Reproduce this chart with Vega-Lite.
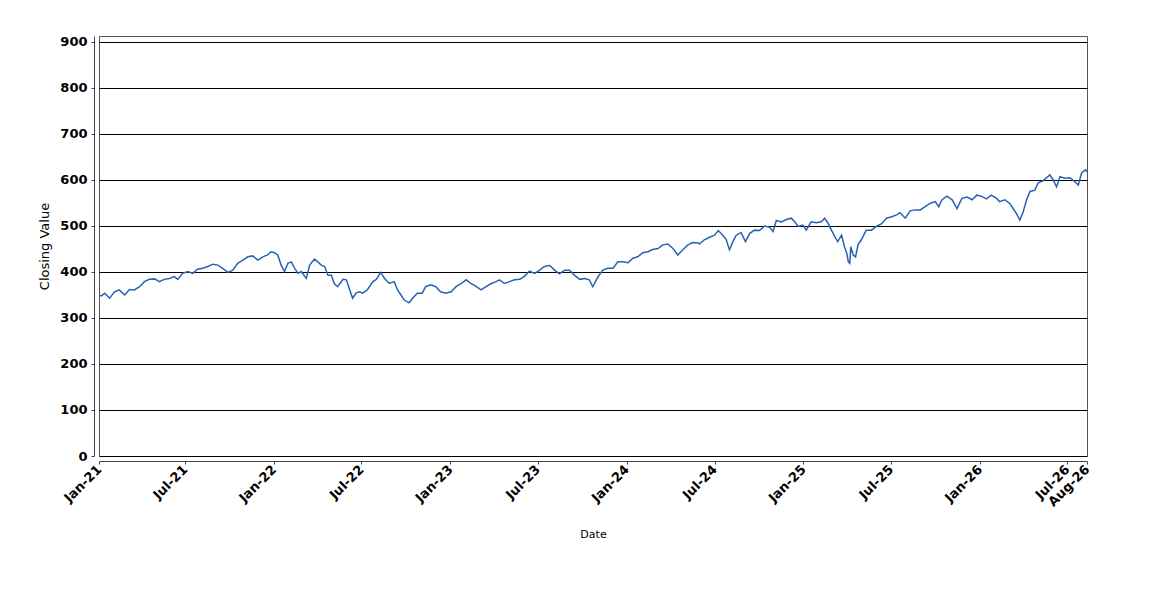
{
  "$schema": "https://vega.github.io/schema/vega-lite/v6.json",
  "autosize": {"type": "none"},
  "padding": {"left": 99, "top": 36, "right": 63, "bottom": 144},
  "width": 988,
  "height": 420,
  "background": "white",
  "config": {
    "view": {"stroke": "#555555", "strokeWidth": 1},
    "font": "DejaVu Sans"
  },
  "data": {"values": [
    {"date":"2021-01-04","close":350},{"date":"2021-01-09","close":348},{"date":"2021-01-16","close":354},{"date":"2021-01-26","close":343},
    {"date":"2021-02-05","close":357},{"date":"2021-02-15","close":361},{"date":"2021-02-26","close":350},{"date":"2021-03-08","close":362},
    {"date":"2021-03-18","close":361},{"date":"2021-03-29","close":368},{"date":"2021-04-08","close":379},{"date":"2021-04-18","close":384},
    {"date":"2021-04-29","close":385},{"date":"2021-05-09","close":379},{"date":"2021-05-19","close":384},{"date":"2021-05-30","close":386},
    {"date":"2021-06-09","close":390},{"date":"2021-06-16","close":384},{"date":"2021-06-26","close":397},{"date":"2021-07-07","close":401},
    {"date":"2021-07-17","close":397},{"date":"2021-07-27","close":406},{"date":"2021-08-07","close":408},{"date":"2021-08-17","close":412},
    {"date":"2021-08-28","close":417},{"date":"2021-09-07","close":415},{"date":"2021-09-17","close":408},{"date":"2021-09-28","close":399},
    {"date":"2021-10-08","close":404},{"date":"2021-10-18","close":419},{"date":"2021-10-29","close":426},{"date":"2021-11-08","close":433},
    {"date":"2021-11-18","close":435},{"date":"2021-11-29","close":426},{"date":"2021-12-09","close":433},{"date":"2021-12-19","close":437},
    {"date":"2021-12-26","close":444},{"date":"2022-01-02","close":442},{"date":"2022-01-09","close":437},{"date":"2022-01-16","close":415},
    {"date":"2022-01-23","close":401},{"date":"2022-01-30","close":419},{"date":"2022-02-06","close":422},{"date":"2022-02-13","close":408},
    {"date":"2022-02-20","close":397},{"date":"2022-02-27","close":401},{"date":"2022-03-06","close":390},{"date":"2022-03-09","close":386},
    {"date":"2022-03-16","close":415},{"date":"2022-03-26","close":428},{"date":"2022-04-02","close":422},{"date":"2022-04-09","close":415},
    {"date":"2022-04-16","close":412},{"date":"2022-04-23","close":393},{"date":"2022-04-30","close":393},{"date":"2022-05-06","close":375},
    {"date":"2022-05-13","close":368},{"date":"2022-05-24","close":384},{"date":"2022-05-31","close":383},{"date":"2022-06-07","close":361},
    {"date":"2022-06-13","close":343},{"date":"2022-06-20","close":354},{"date":"2022-06-27","close":357},{"date":"2022-07-04","close":354},
    {"date":"2022-07-14","close":362},{"date":"2022-07-25","close":379},{"date":"2022-08-01","close":384},{"date":"2022-08-10","close":399},
    {"date":"2022-08-18","close":386},{"date":"2022-08-28","close":375},{"date":"2022-09-07","close":379},{"date":"2022-09-14","close":361},
    {"date":"2022-09-21","close":350},{"date":"2022-09-28","close":339},{"date":"2022-10-08","close":333},{"date":"2022-10-15","close":343},
    {"date":"2022-10-25","close":354},{"date":"2022-11-04","close":354},{"date":"2022-11-11","close":368},{"date":"2022-11-22","close":372},
    {"date":"2022-12-02","close":368},{"date":"2022-12-12","close":357},{"date":"2022-12-23","close":354},{"date":"2023-01-03","close":357},
    {"date":"2023-01-13","close":368},{"date":"2023-01-24","close":375},{"date":"2023-02-03","close":383},{"date":"2023-02-13","close":375},
    {"date":"2023-02-24","close":368},{"date":"2023-03-06","close":361},{"date":"2023-03-16","close":368},{"date":"2023-03-27","close":375},
    {"date":"2023-04-06","close":379},{"date":"2023-04-13","close":383},{"date":"2023-04-23","close":375},{"date":"2023-05-04","close":379},
    {"date":"2023-05-14","close":383},{"date":"2023-05-25","close":384},{"date":"2023-06-04","close":391},{"date":"2023-06-14","close":402},
    {"date":"2023-06-25","close":397},{"date":"2023-07-05","close":404},{"date":"2023-07-15","close":412},{"date":"2023-07-26","close":414},
    {"date":"2023-08-05","close":404},{"date":"2023-08-15","close":396},{"date":"2023-08-26","close":404},{"date":"2023-09-05","close":404},
    {"date":"2023-09-15","close":393},{"date":"2023-09-26","close":384},{"date":"2023-10-06","close":386},{"date":"2023-10-16","close":383},
    {"date":"2023-10-23","close":368},{"date":"2023-11-03","close":390},{"date":"2023-11-13","close":404},{"date":"2023-11-23","close":408},
    {"date":"2023-12-04","close":408},{"date":"2023-12-14","close":422},{"date":"2023-12-24","close":422},{"date":"2024-01-04","close":420},
    {"date":"2024-01-14","close":430},{"date":"2024-01-24","close":433},{"date":"2024-02-04","close":442},{"date":"2024-02-14","close":444},
    {"date":"2024-02-24","close":449},{"date":"2024-03-06","close":451},{"date":"2024-03-16","close":459},{"date":"2024-03-26","close":461},
    {"date":"2024-04-06","close":451},{"date":"2024-04-16","close":437},{"date":"2024-04-26","close":448},{"date":"2024-05-07","close":459},
    {"date":"2024-05-17","close":464},{"date":"2024-05-28","close":463},{"date":"2024-05-31","close":461},{"date":"2024-06-10","close":470},
    {"date":"2024-06-20","close":475},{"date":"2024-07-01","close":480},{"date":"2024-07-09","close":490},{"date":"2024-07-18","close":480},
    {"date":"2024-07-25","close":471},{"date":"2024-08-01","close":448},{"date":"2024-08-08","close":466},{"date":"2024-08-15","close":480},
    {"date":"2024-08-25","close":486},{"date":"2024-09-03","close":466},{"date":"2024-09-12","close":484},{"date":"2024-09-22","close":491},
    {"date":"2024-10-02","close":490},{"date":"2024-10-13","close":500},{"date":"2024-10-23","close":497},{"date":"2024-10-30","close":488},
    {"date":"2024-11-06","close":512},{"date":"2024-11-16","close":509},{"date":"2024-11-27","close":514},{"date":"2024-12-07","close":517},
    {"date":"2024-12-14","close":509},{"date":"2024-12-21","close":499},{"date":"2024-12-31","close":502},{"date":"2025-01-07","close":491},
    {"date":"2025-01-17","close":509},{"date":"2025-01-28","close":507},{"date":"2025-02-07","close":509},{"date":"2025-02-14","close":517},
    {"date":"2025-02-21","close":506},{"date":"2025-02-28","close":491},{"date":"2025-03-07","close":477},{"date":"2025-03-13","close":466},
    {"date":"2025-03-21","close":480},{"date":"2025-03-27","close":455},{"date":"2025-04-01","close":440},{"date":"2025-04-04","close":422},
    {"date":"2025-04-07","close":419},{"date":"2025-04-09","close":455},{"date":"2025-04-14","close":437},{"date":"2025-04-19","close":433},
    {"date":"2025-04-24","close":459},{"date":"2025-05-01","close":470},{"date":"2025-05-11","close":491},{"date":"2025-05-22","close":491},
    {"date":"2025-06-01","close":499},{"date":"2025-06-12","close":505},{"date":"2025-06-22","close":517},{"date":"2025-07-03","close":520},
    {"date":"2025-07-13","close":524},{"date":"2025-07-20","close":529},{"date":"2025-07-31","close":517},{"date":"2025-08-10","close":533},
    {"date":"2025-08-20","close":535},{"date":"2025-08-31","close":535},{"date":"2025-09-10","close":542},{"date":"2025-09-20","close":549},
    {"date":"2025-10-01","close":553},{"date":"2025-10-08","close":542},{"date":"2025-10-15","close":557},{"date":"2025-10-25","close":565},
    {"date":"2025-11-05","close":557},{"date":"2025-11-15","close":538},{"date":"2025-11-25","close":560},{"date":"2025-12-06","close":563},
    {"date":"2025-12-16","close":557},{"date":"2025-12-26","close":567},{"date":"2026-01-04","close":565},{"date":"2026-01-15","close":559},
    {"date":"2026-01-25","close":567},{"date":"2026-02-05","close":560},{"date":"2026-02-11","close":553},{"date":"2026-02-22","close":557},
    {"date":"2026-03-04","close":549},{"date":"2026-03-11","close":538},{"date":"2026-03-18","close":527},{"date":"2026-03-25","close":513},
    {"date":"2026-04-01","close":531},{"date":"2026-04-08","close":557},{"date":"2026-04-15","close":575},{"date":"2026-04-25","close":578},
    {"date":"2026-05-02","close":594},{"date":"2026-05-12","close":598},{"date":"2026-05-26","close":611},{"date":"2026-06-02","close":600},
    {"date":"2026-06-09","close":585},{"date":"2026-06-16","close":607},{"date":"2026-06-26","close":604},{"date":"2026-07-07","close":605},
    {"date":"2026-07-17","close":596},{"date":"2026-07-24","close":589},{"date":"2026-07-31","close":616},{"date":"2026-08-08","close":622},
    {"date":"2026-08-11","close":618}
  ]},
  "mark": {"type": "line", "color": "#2862b4", "strokeWidth": 1.5, "clip": true},
  "encoding": {
    "x": {
      "field": "date", "type": "temporal",
      "scale": {"type": "utc", "domain": [
        {"year": 2021, "month": 1, "date": 4, "utc": true},
        {"year": 2026, "month": 8, "date": 11, "utc": true}
      ]},
      "axis": {
        "title": "Date",
        "labelExpr": "utcFormat(datum.value, '%b-%y')",
        "values": [
          {"year": 2021, "month": 1, "date": 4, "utc": true},
          {"year": 2021, "month": 7, "date": 1, "utc": true},
          {"year": 2022, "month": 1, "date": 1, "utc": true},
          {"year": 2022, "month": 7, "date": 1, "utc": true},
          {"year": 2023, "month": 1, "date": 1, "utc": true},
          {"year": 2023, "month": 7, "date": 1, "utc": true},
          {"year": 2024, "month": 1, "date": 1, "utc": true},
          {"year": 2024, "month": 7, "date": 1, "utc": true},
          {"year": 2025, "month": 1, "date": 1, "utc": true},
          {"year": 2025, "month": 7, "date": 1, "utc": true},
          {"year": 2026, "month": 1, "date": 1, "utc": true},
          {"year": 2026, "month": 7, "date": 1, "utc": true},
          {"year": 2026, "month": 8, "date": 11, "utc": true}
        ],
        "grid": false,
        "offset": 5,
        "domainColor": "#444444",
        "tickColor": "#444444",
        "tickSize": 3,
        "labelAngle": -45,
        "labelAlign": "right",
        "labelBaseline": "middle",
        "labelPadding": 3,
        "labelFont": "DejaVu Sans",
        "labelFontSize": 13,
        "labelFontWeight": "bold",
        "labelColor": "#000000",
        "labelOverlap": false,
        "labelFlush": false,
        "titleFont": "DejaVu Sans",
        "titleFontSize": 11,
        "titleFontWeight": "normal",
        "titleColor": "#000000",
        "titlePadding": 20
      }
    },
    "y": {
      "field": "close", "type": "quantitative",
      "scale": {"domain": [0, 913], "nice": false, "zero": true},
      "axis": {
        "title": "Closing Value",
        "values": [0, 100, 200, 300, 400, 500, 600, 700, 800, 900],
        "grid": true,
        "gridColor": "#000000",
        "gridWidth": 1,
        "gridOpacity": 1,
        "offset": 5,
        "domainColor": "#444444",
        "tickColor": "#444444",
        "tickSize": 3,
        "labelPadding": 4,
        "labelFont": "DejaVu Sans",
        "labelFontSize": 13,
        "labelFontWeight": "bold",
        "labelColor": "#000000",
        "titleFont": "DejaVu Sans",
        "titleFontSize": 13,
        "titleFontWeight": "normal",
        "titleColor": "#000000",
        "titlePadding": 8
      }
    }
  }
}
